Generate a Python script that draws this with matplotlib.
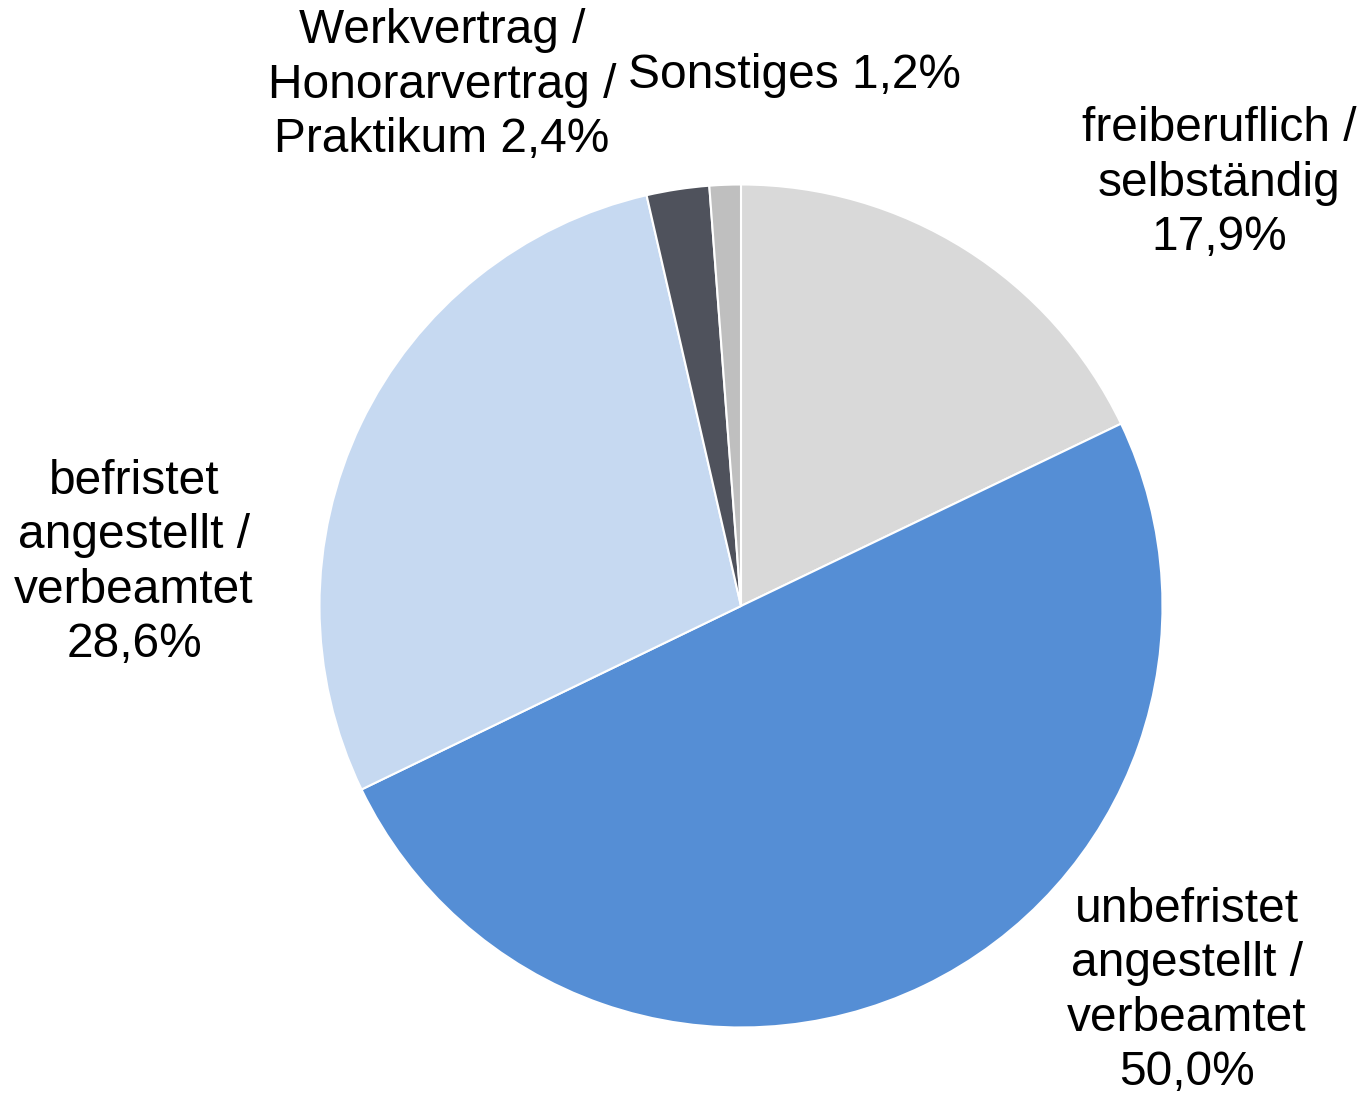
import matplotlib
matplotlib.use('Agg')
import matplotlib.pyplot as plt

plt.rcParams['font.family'] = ['Liberation Sans', 'DejaVu Sans']

# Beschäftigungsverhältnis, Anteile in Prozent (im Uhrzeigersinn ab 12 Uhr)
categories = ['freiberuflich /\nselbständig',
              'unbefristet\nangestellt /\nverbeamtet',
              'befristet\nangestellt /\nverbeamtet',
              'Werkvertrag /\nHonorarvertrag /\nPraktikum',
              'Sonstiges']
shares = [17.9, 50.0, 28.6, 2.4, 1.2]
colors = ['#d9d9d9', '#558ed5', '#c6d9f1', '#4f525c', '#bfbfbf']

# label centres in axes data units (pie radius = 1)
label_pos = [(1.135, 1.003), (1.058, -0.913), (-1.440, 0.102),
             (-0.709, 1.236), (0.128, 1.259)]
sep = ['\n', '\n', '\n', ' ', ' ']

W, H = 1364, 1096
cx, cy, r = 741, 606, 421.5

fig = plt.figure(figsize=(W / 100, H / 100), dpi=100)
ax = fig.add_axes([(cx - r) / W, (H - cy - r) / H, 2 * r / W, 2 * r / H])

ax.pie(shares, colors=colors, startangle=90, counterclock=False,
       wedgeprops=dict(edgecolor='white', linewidth=1.5))
ax.set_xlim(-1, 1)
ax.set_ylim(-1, 1)
ax.set_aspect('equal')
ax.axis('off')

for name, val, (x, y), s in zip(categories, shares, label_pos, sep):
    txt = name + s + f'{val:.1f}'.replace('.', ',') + '%'
    ax.text(x, y, txt, ha='center', va='center', multialignment='center',
            fontsize=34.5, linespacing=1.27, clip_on=False)

fig.savefig('out.png', dpi=100)
